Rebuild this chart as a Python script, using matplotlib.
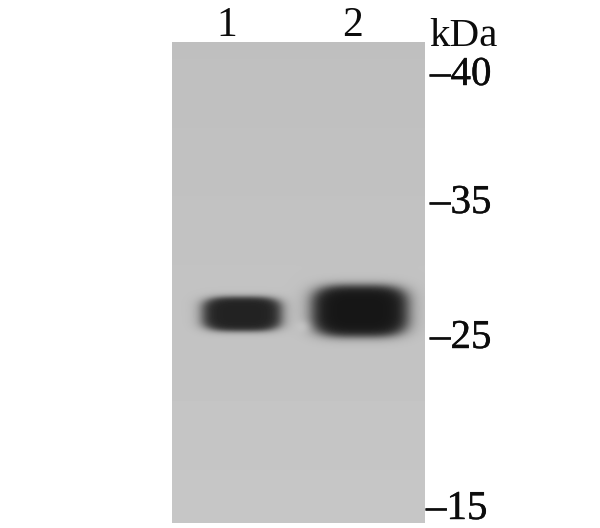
import numpy as np
import matplotlib
matplotlib.use("Agg")
import matplotlib.pyplot as plt
import matplotlib.patheffects as pe

lane_labels = ["1", "2"]
lane_label_x = [227, 353]
mw_labels = ["40", "35", "25", "15"]
mw_label_base = [85, 213, 348, 519]
mw_label_x = [430, 430, 430, 426]
band_cx = [242, 360]
band_cy = [314, 311]
band_halfw = [46, 56]
band_halfh = [20, 30]
band_core = [34, 22]
W, H = 600, 528
blot = (172, 425, 42, 523)

fig = plt.figure(figsize=(6, 5.28), dpi=100)
ax = fig.add_axes([0, 0, 1, 1])
ax.set_xlim(0, W)
ax.set_ylim(H, 0)
ax.axis("off")

x = np.arange(blot[0], blot[1]) + 0.5
y = np.arange(blot[2], blot[3]) + 0.5
X, Y = np.meshgrid(x, y)
img = 191.0 + 7.0 * (Y - blot[2]) / (blot[3] - blot[2])
for cx, cy, a, b, core in zip(band_cx, band_cy, band_halfw, band_halfh, band_core):
    d = ((np.abs(X - cx) / a) ** 3.5 + (np.abs(Y - cy) / b) ** 3.5) ** (1 / 3.5)
    s = 1 / (1 + np.exp((d - 0.86) / 0.085))
    img = img * (1 - s) + core * s
# pale spot beside the second band
spot = np.exp(-(((X - 305) / 8) ** 2 + ((Y - 326) / 6) ** 2))
img = img + 16 * spot
img = np.clip(img, 0, 255)
ax.imshow(img, cmap="gray", vmin=0, vmax=255, extent=(blot[0], blot[1], blot[3], blot[2]),
          interpolation="bilinear", aspect="auto")
ax.set_xlim(0, W)
ax.set_ylim(H, 0)

serif = "Liberation Serif"
ink = "#0c0c0c"
for t, px in zip(lane_labels, lane_label_x):
    ax.text(px, 36, t, family=serif, fontsize=30, ha="center", va="baseline", color=ink)
ax.text(429, 46, "kDa", family=serif, fontsize=29.5, ha="left", va="baseline", color=ink)
for t, px, py in zip(mw_labels, mw_label_x, mw_label_base):
    ax.text(px, py, "\u2013" + t, family=serif, fontsize=29.5, ha="left", va="baseline", color=ink,
            path_effects=[pe.withStroke(linewidth=0.3, foreground=ink)])

fig.savefig("out.png", dpi=100)
